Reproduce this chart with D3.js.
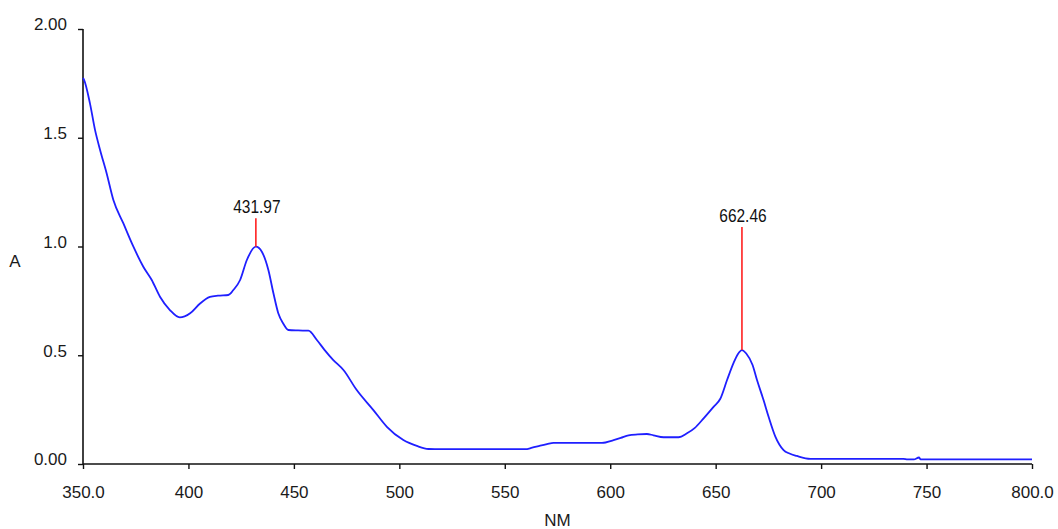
<!DOCTYPE html>
<html>
<head>
<meta charset="utf-8">
<script src="https://cdn.jsdelivr.net/npm/d3@7/dist/d3.min.js"></script>
<style>
  html, body { margin: 0; padding: 0; background: #ffffff; }
  svg { display: block; }
  .tick text { font-family: "Liberation Sans", Arial, sans-serif; font-size: 17px; fill: #1a1a1a; }
</style>
</head>
<body>
<svg id="chart" width="1058" height="529"></svg>
<script>
// Wavelength (nm)
const wavelengths = [350, 350.5, 353.3, 355.7, 358.1, 361.2, 364.4, 369.1, 373.9, 378.6, 382.6, 386.5, 391.2, 395.9, 400.8, 405.5, 410.2, 414, 418.9, 421.3, 424.5, 427.7, 431.97, 434.8, 437.9, 440.3, 442.6, 445, 447.4, 452, 456.9, 460.9, 464.5, 468.7, 473.5, 479.8, 487.7, 494.1, 501.9, 508.3, 513.8, 520, 530, 540, 550, 559.7, 563, 566.8, 570, 573.1, 580, 590, 596.1, 601.6, 605, 608.7, 613, 617.4, 620.5, 625.3, 632.4, 636.4, 640, 644.3, 649, 652.2, 655.4, 658.5, 660.5, 662.46, 664.5, 667.5, 669.6, 672.7, 675.1, 678.3, 682.2, 685, 688.5, 694.9, 700, 720, 739, 741, 744, 746.4, 747.2, 760, 780, 800];
// Absorbance (A)
const absorbance = [1.775, 1.766, 1.658, 1.536, 1.444, 1.337, 1.214, 1.107, 0.999, 0.907, 0.846, 0.769, 0.708, 0.674, 0.693, 0.738, 0.768, 0.774, 0.777, 0.80, 0.846, 0.938, 0.999, 0.976, 0.892, 0.785, 0.693, 0.645, 0.616, 0.614, 0.613, 0.570, 0.525, 0.478, 0.432, 0.340, 0.248, 0.171, 0.110, 0.083, 0.069, 0.068, 0.068, 0.068, 0.068, 0.068, 0.075, 0.084, 0.091, 0.097, 0.097, 0.097, 0.097, 0.110, 0.120, 0.132, 0.136, 0.138, 0.132, 0.123, 0.123, 0.141, 0.165, 0.21, 0.263, 0.300, 0.386, 0.465, 0.505, 0.524, 0.508, 0.455, 0.386, 0.294, 0.217, 0.126, 0.064, 0.048, 0.037, 0.024, 0.024, 0.024, 0.024, 0.021, 0.021, 0.030, 0.021, 0.021, 0.021, 0.021];

// Peak markers
const peakWavelengths = [431.97, 662.46];
const peakAbsorbance = [0.999, 0.524];
const peakMarkerTop = [1.13, 1.09];
const peakLabels = ["431.97", "662.46"];

// Axis ticks
const xTickValues = [350, 400, 450, 500, 550, 600, 650, 700, 750, 800];
const xTickLabels = ["350.0", "400", "450", "500", "550", "600", "650", "700", "750", "800.0"];
const yTickValues = [0, 0.5, 1.0, 1.5, 2.0];
const yTickLabels = ["0.00", "0.5", "1.0", "1.5", "2.00"];

const xTitle = "NM";
const yTitle = "A";

const W = 1058, H = 529;
const margin = { left: 83, top: 29, right: 26, bottom: 65 };

const svg = d3.select("#chart");

const x = d3.scaleLinear().domain([350, 800]).range([margin.left, W - margin.right]);
const y = d3.scaleLinear().domain([0, 2]).range([H - margin.bottom, margin.top]);

// X axis
const xAxis = d3.axisBottom(x)
  .tickValues(xTickValues)
  .tickFormat((d, i) => xTickLabels[i])
  .tickSize(5)
  .tickPadding(17);
const gx = svg.append("g").attr("transform", `translate(0,${H - margin.bottom})`).call(xAxis);
gx.select(".domain").attr("stroke", "#111").attr("stroke-width", 1.6).attr("d", `M${x(350)},0H${x(800)}`);
gx.selectAll(".tick line").attr("stroke", "#111").attr("stroke-width", 1.4);

// Y axis
const yAxis = d3.axisLeft(y)
  .tickValues(yTickValues)
  .tickFormat((d, i) => yTickLabels[i])
  .tickSize(5)
  .tickPadding(11);
const gy = svg.append("g").attr("transform", `translate(${margin.left},0)`).call(yAxis);
gy.select(".domain").attr("stroke", "#111").attr("stroke-width", 1.6).attr("d", `M0,${y(2)}V${y(0)}`);
gy.selectAll(".tick line").attr("stroke", "#111").attr("stroke-width", 1.4);
gy.selectAll(".tick text").attr("dy", "0.05em");

// Axis titles
svg.append("text")
  .attr("x", 15).attr("y", 267)
  .attr("text-anchor", "middle")
  .style("font-family", "Liberation Sans, Arial, sans-serif")
  .style("font-size", "17px").style("fill", "#1a1a1a")
  .text(yTitle);
svg.append("text")
  .attr("x", (x(350) + x(800)) / 2).attr("y", 526)
  .attr("text-anchor", "middle")
  .style("font-family", "Liberation Sans, Arial, sans-serif")
  .style("font-size", "17px").style("fill", "#1a1a1a")
  .text(xTitle);

// Spectrum line
const data = wavelengths.map((w, i) => ({ w, a: absorbance[i] }));
const line = d3.line().x(d => x(d.w)).y(d => y(d.a)).curve(d3.curveMonotoneX);
svg.append("path")
  .datum(data)
  .attr("fill", "none")
  .attr("stroke", "#1f1fff")
  .attr("stroke-width", 1.8)
  .attr("d", line);

// Peak markers
peakWavelengths.forEach((w, i) => {
  svg.append("line")
    .attr("x1", x(w)).attr("x2", x(w))
    .attr("y1", y(peakAbsorbance[i])).attr("y2", y(peakMarkerTop[i]))
    .attr("stroke", "#ff2020").attr("stroke-width", 1.6);
  svg.append("text")
    .attr("transform", `translate(${x(w) + 1},${y(peakMarkerTop[i]) - 5}) scale(0.86,1)`)
    .attr("text-anchor", "middle")
    .style("font-family", "Liberation Sans, Arial, sans-serif")
    .style("font-size", "18px").style("fill", "#111")
    .text(peakLabels[i]);
});
</script>
</body>
</html>
